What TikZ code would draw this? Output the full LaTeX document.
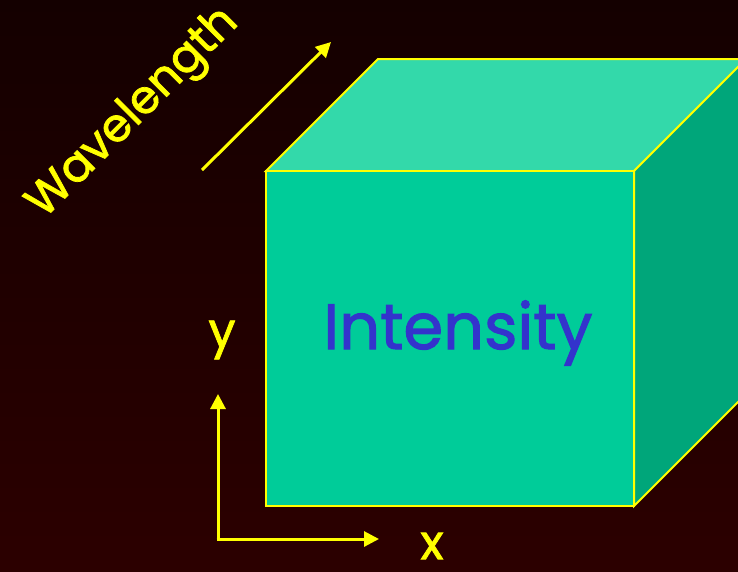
\documentclass[tikz,border=0pt]{standalone}
\usepackage{fontspec}
\setmainfont{Poppins}[FakeBold=1.6]
\usetikzlibrary{arrows.meta}
\definecolor{bgtop}{HTML}{140000}
\definecolor{bgbot}{HTML}{2C0000}
\definecolor{frontc}{HTML}{00CC99}
\definecolor{topc}{HTML}{33D9AA}
\definecolor{sidec}{HTML}{00A67A}
\definecolor{edgec}{HTML}{FFFF00}
\definecolor{txtblue}{HTML}{3333CC}
\tikzset{
  face/.style={draw=edgec, line width=2pt, line join=miter},
  axisarrow/.style={draw=edgec, line width=3pt, -{Triangle[length=15pt,width=15pt]}},
  lab/.style={text=edgec, inner sep=0pt, font=\fontsize{48}{48}\selectfont},
}
\begin{document}
\begin{tikzpicture}[x=1pt,y=-1pt]
\useasboundingbox (0,0) rectangle (738,571);
\clip (0,0) rectangle (738,571);
\shade[top color=bgtop,bottom color=bgbot] (0,0) rectangle (738,571);
% cube corners
\coordinate (ftl) at (266,171);
\coordinate (ftr) at (634,171);
\coordinate (fbr) at (634,506);
\coordinate (fbl) at (266,506);
\coordinate (btl) at (378,59);
\coordinate (btr) at (746,59);
\coordinate (bbr) at (746,394);
% faces
\path[face, fill=topc] (ftl) -- (btl) -- (btr) -- (ftr) -- cycle;
\path[face, fill=sidec] (ftr) -- (btr) -- (bbr) -- (fbr) -- cycle;
\path[face, fill=frontc] (ftl) -- (ftr) -- (fbr) -- (fbl) -- cycle;
\node[text=txtblue, inner sep=0pt, font=\fontsize{64}{64}\selectfont] (int) at (458,333) {Intensity};
% axes
\coordinate (o) at (218,539);
\coordinate (yend) at (218,394);
\coordinate (xend) at (379,539);
\coordinate (ws) at (202,170);
\coordinate (we) at (331,42);
\draw[axisarrow] ([yshift=1.5pt]o) -- (yend);
\draw[axisarrow] ([xshift=-1.5pt]o) -- (xend);
\draw[axisarrow] (ws) -- (we);
\node[lab] (ylab) at (222,340) {y};
\node[lab] (xlab) at (432,546) {x};
\node[lab, rotate=45, font=\fontsize{46}{46}\selectfont] (wl) at (134,114) {Wavelength};
\end{tikzpicture}
\end{document}
